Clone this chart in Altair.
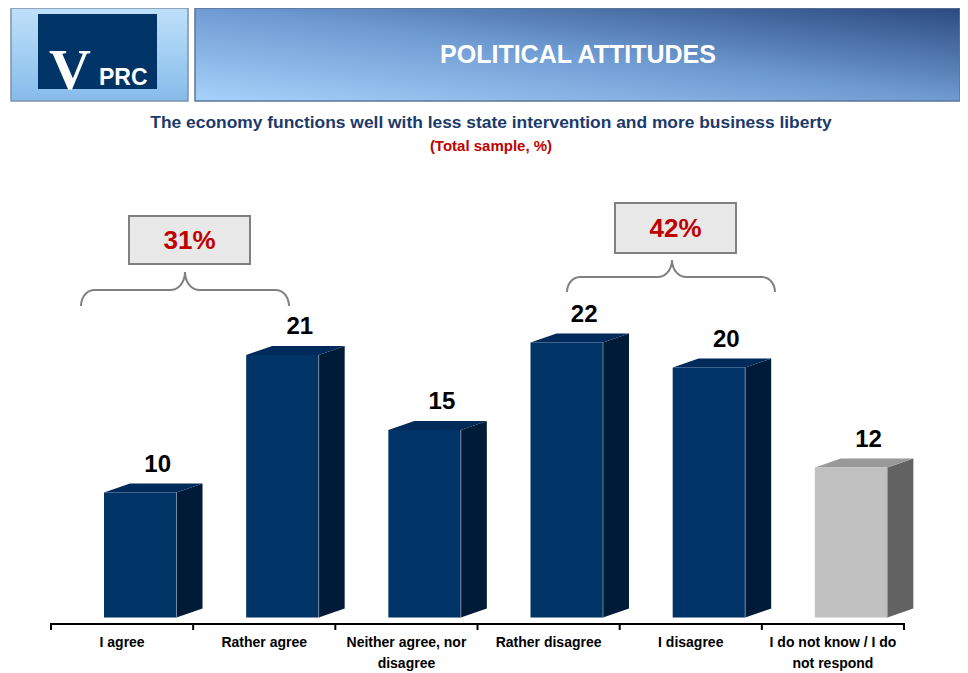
import altair as alt
import numpy as np
import pandas as pd

# ---------------- data ----------------
categories = ["I agree", "Rather agree", "Neither agree, nor disagree",
              "Rather disagree", "I disagree", "I do not know / I do not respond"]
tick_labels = ["I agree", "Rather agree", "Neither agree, nor\ndisagree",
               "Rather disagree", "I disagree", "I do not know / I do\nnot respond"]
values = [10, 21, 15, 22, 20, 12]
group_labels = ["31%", "42%"]

title_text = "The economy functions well with less state intervention and more business liberty"
subtitle_text = "(Total sample, %)"
banner_text = "POLITICAL ATTITUDES"

# ---------------- layout / style constants ----------------
W, H = 952, 665
X_LEFT, BAND = 43, 142.17          # pixel position of axis start, band width
Y_ZERO, PX_PER_UNIT = 609.5, 12.5  # pixel of value 0, pixels per unit
xs = alt.Scale(domain=[0, 6], range=[X_LEFT, X_LEFT + 6 * BAND])
ys = alt.Scale(domain=[0, Y_ZERO / PX_PER_UNIT], range=[Y_ZERO, 0])

FL = 53 / BAND      # front face left offset within band
FW = 72.5 / BAND    # front face width
DX = 26 / BAND      # 3D depth (x)
DY = 9 / PX_PER_UNIT  # 3D depth (y)

NAVY_FRONT, NAVY_TOP, NAVY_SIDE = "#003366", "#002a5a", "#001b38"
GRAY_FRONT, GRAY_TOP, GRAY_SIDE = "#c0c0c0", "#999999", "#626262"
NARROW = "Liberation Sans Narrow, Arial Narrow, Liberation Sans, Arial, sans-serif"


def px_x(p):
    return (p - X_LEFT) / BAND


def px_y(p):
    return (Y_ZERO - p) / PX_PER_UNIT


def col(gray, navy):
    return alt.condition("datum.idx == 5", alt.value(gray), alt.value(navy))


df = pd.DataFrame({"idx": list(range(len(categories))), "cat": categories,
                   "label": tick_labels, "value": values})
df["x0"] = df["idx"] + FL
df["x1"] = df["idx"] + FL + FW
df["zero"] = 0.0
df["lx"] = df["idx"] + 0.75
df["ly"] = df["value"] + DY
df["cx"] = df["idx"] + 0.5

# side and top faces (parallelograms)
side_rows, top_rows = [], []
for i, v in enumerate(values):
    r = i + FL + FW
    l = i + FL
    side_rows += [dict(idx=i, x=r, lo=0.0, hi=v), dict(idx=i, x=r + DX, lo=DY, hi=v + DY)]
    top_rows += [dict(idx=i, x=l, lo=v, hi=v), dict(idx=i, x=l + DX, lo=v, hi=v + DY),
                 dict(idx=i, x=r, lo=v, hi=v + DY), dict(idx=i, x=r + DX, lo=v + DY, hi=v + DY)]
side_df = pd.DataFrame(side_rows)
top_df = pd.DataFrame(top_rows)

one = pd.DataFrame({"a": [0]})

# ---------------- header ----------------
left_grad = alt.Gradient(gradient="linear", x1=0, y1=0, x2=0, y2=1,
                         stops=[alt.GradientStop(color="#bfe0fa", offset=0),
                                alt.GradientStop(color="#9ccbf1", offset=0.6),
                                alt.GradientStop(color="#86bbea", offset=1)])
banner_grad = alt.Gradient(gradient="linear", x1=0, y1=1, x2=1, y2=0,
                           stops=[alt.GradientStop(color="#a6d2fa", offset=0),
                                  alt.GradientStop(color="#6f9bd3", offset=0.5),
                                  alt.GradientStop(color="#2b4a80", offset=1)])

hdr_left = alt.Chart(one).mark_rect(color=left_grad, stroke="#7e93ab", strokeWidth=1.5).encode(
    x=alt.value(3), x2=alt.value(180), y=alt.value(0), y2=alt.value(93))
logo_box = alt.Chart(one).mark_rect(color="#003366").encode(
    x=alt.value(30), x2=alt.value(149), y=alt.value(6), y2=alt.value(81))
logo_v = alt.Chart(one).mark_text(text="V", font="Liberation Serif, DejaVu Serif, serif", fontWeight="bold",
                                  fontSize=58, color="white", align="left", baseline="alphabetic").encode(
    x=alt.value(41), y=alt.value(81))
logo_prc = alt.Chart(one).mark_text(text="PRC", font="Liberation Sans, Arial, sans-serif", fontWeight="bold",
                                    fontSize=23, color="white", align="left", baseline="alphabetic").encode(
    x=alt.value(91), y=alt.value(77))
hdr_banner = alt.Chart(one).mark_rect(color=banner_grad, stroke="#5c7596", strokeWidth=1.5).encode(
    x=alt.value(187), x2=alt.value(W), y=alt.value(0), y2=alt.value(93))
banner_t = alt.Chart(one).mark_text(text=banner_text, font=NARROW, fontWeight="bold", fontSize=25,
                                    color="white", align="center", baseline="middle").encode(
    x=alt.value(570), y=alt.value(47))
title_t = alt.Chart(one).mark_text(text=title_text, font=NARROW, fontWeight="bold", fontSize=17.4,
                                   color="#1b3a6b", align="center", baseline="middle").encode(
    x=alt.value(483), y=alt.value(115))
sub_t = alt.Chart(one).mark_text(text=subtitle_text, font=NARROW, fontWeight="bold", fontSize=15,
                                 color="#c00000", align="center", baseline="middle").encode(
    x=alt.value(483), y=alt.value(138))

# ---------------- bars ----------------
side = alt.Chart(side_df).mark_area(orient="vertical", interpolate="linear").encode(
    x=alt.X("x:Q", scale=xs, axis=None),
    y=alt.Y("lo:Q", scale=ys, axis=None, stack=None), y2="hi:Q",
    detail="idx:N", color=col(GRAY_SIDE, NAVY_SIDE))
top = alt.Chart(top_df).mark_area(orient="vertical", interpolate="linear").encode(
    x=alt.X("x:Q", scale=xs, axis=None),
    y=alt.Y("lo:Q", scale=ys, axis=None, stack=None), y2="hi:Q",
    detail="idx:N", color=col(GRAY_TOP, NAVY_TOP))
front = alt.Chart(df).mark_rect().encode(
    x=alt.X("x0:Q", scale=xs, axis=None), x2="x1:Q",
    y=alt.Y("value:Q", scale=ys, axis=None), y2="zero:Q",
    color=col(GRAY_FRONT, NAVY_FRONT))
edge = alt.Chart(df).mark_rule(color="#8a97a6", strokeWidth=0.8).encode(
    x=alt.X("x1:Q", scale=xs, axis=None),
    y=alt.Y("value:Q", scale=ys, axis=None), y2="zero:Q")

value_t = alt.Chart(df).mark_text(font=NARROW, fontWeight="bold", fontSize=24, color="black",
                                  baseline="bottom", dy=-7).encode(
    x=alt.X("lx:Q", scale=xs, axis=None), y=alt.Y("ly:Q", scale=ys, axis=None),
    text="value:Q")

# ---------------- axis ----------------
base_line = alt.Chart(pd.DataFrame({"a": [0], "b": [6]})).mark_rule(color="black", strokeWidth=2).encode(
    x=alt.X("a:Q", scale=xs, axis=None), x2="b:Q", y=alt.value(616))
ticks = alt.Chart(pd.DataFrame({"t": list(range(7))})).mark_rule(color="black", strokeWidth=2).encode(
    x=alt.X("t:Q", scale=xs, axis=None), y=alt.value(615), y2=alt.value(622))
cat_t = alt.Chart(df).mark_text(font=NARROW, fontWeight="bold", fontSize=14, color="black",
                                baseline="top", lineBreak="\n", lineHeight=21).encode(
    x=alt.X("cx:Q", scale=xs, axis=None), y=alt.value(628), text="label:N")

# ---------------- braces & boxes ----------------
def brace(left, right, center, y_end, y_flat, y_tip, g):
    pts = []
    rx_e, ry_e = 13, y_end - y_flat
    rx_c, ry_c = 14, y_flat - y_tip
    t = np.linspace(0, np.pi / 2, 8)
    for a in t:  # left end curl
        pts.append((left + rx_e - rx_e * np.cos(a), y_end - ry_e * np.sin(a)))
    for a in t:  # left center curl
        pts.append((center - rx_c + rx_c * np.sin(a), y_tip + ry_c * np.cos(a)))
    for a in t[::-1]:  # right center curl
        pts.append((center + rx_c - rx_c * np.sin(a), y_tip + ry_c * np.cos(a)))
    for a in t[::-1]:
        pts.append((right - rx_e + rx_e * np.cos(a), y_end - ry_e * np.sin(a)))
    return [dict(g=g, o=k, x=px_x(px), y=px_y(py)) for k, (px, py) in enumerate(pts)]


brace_df = pd.DataFrame(brace(73, 281, 177, 298, 282, 264, 0) + brace(559, 767, 664, 284, 269, 252, 1))
braces = alt.Chart(brace_df).mark_line(color="#808080", strokeWidth=2, interpolate="linear").encode(
    x=alt.X("x:Q", scale=xs, axis=None), y=alt.Y("y:Q", scale=ys, axis=None),
    detail="g:N", order="o:Q")

box_specs = [(121, 242, 208, 256), (607, 728, 195, 245)]
boxes = []
for (bx0, bx1, by0, by1), lab in zip(box_specs, group_labels):
    boxes.append(alt.Chart(one).mark_rect(color="#e8e8e8", stroke="#808080", strokeWidth=2).encode(
        x=alt.value(bx0), x2=alt.value(bx1), y=alt.value(by0), y2=alt.value(by1)))
    boxes.append(alt.Chart(one).mark_text(text=lab, font=NARROW, fontWeight="bold", fontSize=26,
                                          color="#c00000", align="center", baseline="middle").encode(
        x=alt.value((bx0 + bx1) / 2), y=alt.value((by0 + by1) / 2 + 1)))

chart = alt.layer(
    hdr_left, logo_box, logo_v, logo_prc, hdr_banner, banner_t, title_t, sub_t,
    side, top, front, edge, value_t,
    base_line, ticks, cat_t, braces, *boxes
).properties(
    width=W, height=H, padding=0, autosize=alt.AutoSizeParams(type="none")
).configure_view(stroke=None)

chart.save("out.html", embed_options={"renderer": "svg", "actions": False})
